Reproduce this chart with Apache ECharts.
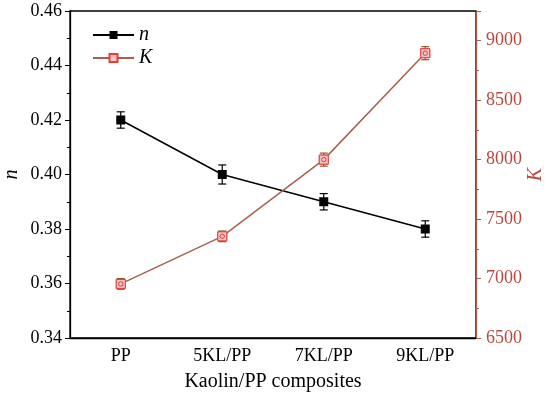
<!DOCTYPE html>
<html>
<head>
<meta charset="utf-8">
<script src="https://cdn.jsdelivr.net/npm/echarts@6/dist/echarts.min.js"></script>
<style>html,body{margin:0;padding:0;background:#fff}#c{width:550px;height:399px}</style>
</head>
<body>
<div id="c"></div>
<script>
var categories = ['PP', '5KL/PP', '7KL/PP', '9KL/PP'];
var nValues = [0.420, 0.400, 0.390, 0.380];
var nErrors = [0.003, 0.0035, 0.003, 0.003];
var kValues = [6955, 7355, 8000, 8895];
var kErrors = [45, 45, 55, 55];
var nTicks = [0.34, 0.36, 0.38, 0.40, 0.42, 0.44, 0.46];
var kTicks = [6500, 7000, 7500, 8000, 8500, 9000];

var FONT = '"Liberation Serif", "DejaVu Serif", serif';
var KCOL = '#a8604c';
var KLAB = '#b8483c';

function errData(vals, errs) {
  return vals.map(function (v, i) { return [i, v, errs[i]]; });
}
function errRender(color) {
  return function (params, api) {
    var x = api.value(0), v = api.value(1), e = api.value(2);
    var hi = api.coord([x, v + e]);
    var lo = api.coord([x, v - e]);
    var w = 4;
    var st = { stroke: color, lineWidth: 1.2 };
    return {
      type: 'group',
      children: [
        { type: 'line', shape: { x1: hi[0], y1: hi[1], x2: lo[0], y2: lo[1] }, style: st },
        { type: 'line', shape: { x1: hi[0] - w, y1: hi[1], x2: hi[0] + w, y2: hi[1] }, style: st },
        { type: 'line', shape: { x1: lo[0] - w, y1: lo[1], x2: lo[0] + w, y2: lo[1] }, style: st }
      ]
    };
  };
}
function kMarkRender(params, api) {
  var c = api.coord([api.value(0), api.value(1)]);
  var s = 4.5;
  return {
    type: 'group',
    children: [
      { type: 'rect', shape: { x: c[0] - s, y: c[1] - s, width: 2 * s, height: 2 * s },
        style: { fill: '#f7c4c4', stroke: '#e0403a', lineWidth: 1 } },
      { type: 'circle', shape: { cx: c[0], cy: c[1], r: 2.2 },
        style: { fill: 'none', stroke: '#d03030', lineWidth: 0.9 } }
    ]
  };
}

var chart = echarts.init(document.getElementById('c'), null, { renderer: 'canvas' });
chart.setOption({
  animation: false,
  backgroundColor: '#fff',
  grid: { left: 70, right: 74, top: 11, bottom: 61, containLabel: false, outerBoundsMode: 'none',
    show: true, borderColor: '#000', borderWidth: 1.3, backgroundColor: 'transparent' },
  legend: {
    left: 87, top: 20, orient: 'vertical', itemGap: 3, itemWidth: 41, itemHeight: 10,
    textStyle: { fontFamily: FONT, fontSize: 20, fontStyle: 'italic', color: '#000' },
    data: ['n', 'K']
  },
  xAxis: {
    type: 'category', data: categories, boundaryGap: true,
    name: 'Kaolin/PP composites', nameLocation: 'middle', nameGap: 34, nameMoveOverlap: false,
    nameTextStyle: { fontFamily: FONT, fontSize: 20, color: '#000' },
    axisLine: { lineStyle: { color: '#000', width: 1.3 } },
    axisTick: { alignWithLabel: true, length: 6, lineStyle: { color: '#000' } },
    axisLabel: { fontFamily: FONT, fontSize: 18, color: '#000', margin: 9 },
    splitLine: { show: false }
  },
  yAxis: [
    {
      type: 'value', min: 0.34, max: 0.46, interval: 0.02, position: 'left',
      name: 'n', nameLocation: 'middle', nameGap: 48, nameRotate: 90, nameMoveOverlap: false,
      nameTextStyle: { fontFamily: FONT, fontSize: 20, fontStyle: 'italic', color: '#000' },
      axisLine: { show: true, lineStyle: { color: '#000', width: 1.3 } },
      axisTick: { show: true, length: 5, lineStyle: { color: '#000' } },
      minorTick: { show: true, splitNumber: 2, length: 3, lineStyle: { color: '#000' } },
      axisLabel: { fontFamily: FONT, fontSize: 18, color: '#000', margin: 8,
        formatter: function (v) { return v.toFixed(2); } },
      splitLine: { show: false }
    },
    {
      type: 'value', min: 6500, max: 9250, interval: 500, position: 'right',
      name: 'K', nameLocation: 'middle', nameGap: 50, nameRotate: 90, nameMoveOverlap: false,
      nameTextStyle: { fontFamily: FONT, fontSize: 20, fontStyle: 'italic', color: KLAB },
      axisLine: { show: true, lineStyle: { color: KCOL, width: 1.3 } },
      axisTick: { show: true, length: 5, lineStyle: { color: KCOL } },
      minorTick: { show: true, splitNumber: 2, length: 3, lineStyle: { color: KCOL } },
      axisLabel: { fontFamily: FONT, fontSize: 18, color: KLAB, margin: 10,
        formatter: function (v) { return v > 9000 ? '' : String(v); } },
      splitLine: { show: false }
    }
  ],
  series: [
    {
      name: 'n', type: 'line', yAxisIndex: 0, data: nValues,
      symbol: 'rect', symbolSize: 9,
      lineStyle: { color: '#000', width: 1.5 },
      itemStyle: { color: '#000' }, z: 3
    },
    {
      name: 'K', type: 'line', yAxisIndex: 1, data: kValues,
      symbol: 'rect', symbolSize: 9,
      lineStyle: { color: KCOL, width: 1.5 },
      itemStyle: { color: '#f7c4c4', borderColor: '#e0403a', borderWidth: 1 }, z: 3
    },
    {
      type: 'custom', yAxisIndex: 0, data: errData(nValues, nErrors),
      renderItem: errRender('#000'), z: 4, silent: true
    },
    {
      type: 'custom', yAxisIndex: 1, data: errData(kValues, kErrors),
      renderItem: errRender('#8a5a30'), z: 4, silent: true
    },
    {
      type: 'custom', yAxisIndex: 1, data: errData(kValues, kErrors),
      renderItem: kMarkRender, z: 5, silent: true
    }
  ]
});
</script>
</body>
</html>
